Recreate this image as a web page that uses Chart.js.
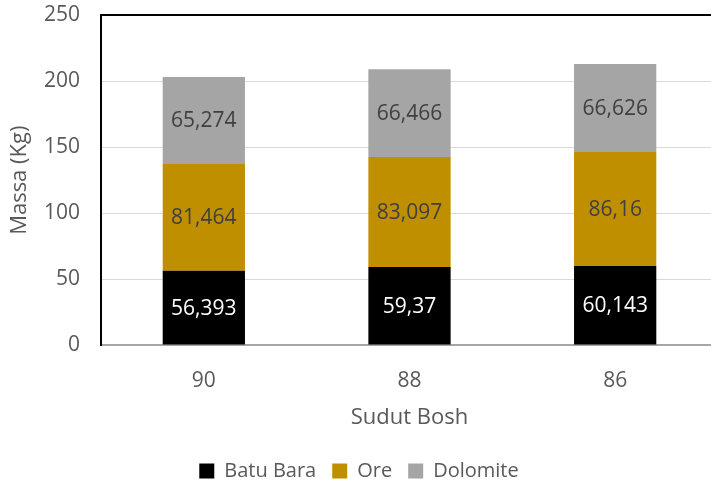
<!DOCTYPE html>
<html>
<head>
<meta charset="utf-8">
<script src="https://cdn.jsdelivr.net/npm/chart.js@4.4.1/dist/chart.umd.min.js"></script>
<style>
  html, body { margin: 0; padding: 0; background: #ffffff; overflow: hidden; }
  #wrap { position: relative; width: 718px; height: 481px; }
</style>
</head>
<body>
<div id="wrap"><canvas id="chart"></canvas></div>
<script>
// Sudut bosh angles on the category axis
const categories = ['90', '88', '86'];
// Mass per material (kg), stacked
const batuBara = [56.393, 59.37, 60.143];
const ore = [81.464, 83.097, 86.16];
const dolomite = [65.274, 66.466, 66.626];
// Value axis ticks
const yTicks = [0, 50, 100, 150, 200, 250];

const FONT = "'Open Sans', 'Noto Sans', sans-serif";

// Writes each segment's value in its middle, decimal comma style
const segmentLabels = {
  id: 'segmentLabels',
  afterDatasetsDraw(chart) {
    const ctx = chart.ctx;
    ctx.save();
    ctx.font = "21px " + FONT;
    ctx.textAlign = 'center';
    ctx.textBaseline = 'middle';
    chart.data.datasets.forEach((ds, di) => {
      const meta = chart.getDatasetMeta(di);
      meta.data.forEach((bar, i) => {
        const v = ds.data[i];
        const text = String(v).replace('.', ',');
        ctx.fillStyle = ds.labelColor;
        ctx.fillText(text, bar.x, (bar.y + bar.base) / 2 + 1);
      });
    });
    ctx.restore();
  }
};

new Chart(document.getElementById('chart'), {
  type: 'bar',
  data: {
    labels: categories,
    datasets: [
      { label: 'Batu Bara', data: batuBara, backgroundColor: '#000000', labelColor: '#ffffff' },
      { label: 'Ore', data: ore, backgroundColor: '#BF8F00', labelColor: '#404040' },
      { label: 'Dolomite', data: dolomite, backgroundColor: '#A5A5A5', labelColor: '#404040' }
    ]
  },
  options: {
    responsive: true,
    maintainAspectRatio: false,
    animation: false,
    layout: { padding: { top: 0, right: 0, left: 0, bottom: -10 } },
    datasets: { bar: { categoryPercentage: 0.4, barPercentage: 1.0 } },
    plugins: {
      legend: {
        position: 'bottom',
        labels: {
          font: { family: FONT, size: 20 },
          color: '#595959',
          boxWidth: 15,
          boxHeight: 15,
          padding: 16
        }
      },
      tooltip: { enabled: false }
    },
    scales: {
      x: {
        stacked: true,
        grid: { display: false },
        border: { display: false },
        ticks: { font: { family: FONT, size: 21 }, color: '#595959', padding: 15 },
        title: {
          display: true,
          text: 'Sudut Bosh',
          font: { family: FONT, size: 22 },
          color: '#595959',
          padding: { top: -4, bottom: 14 }
        }
      },
      y: {
        stacked: true,
        min: 0,
        max: 250,
        afterFit(scale) {
          scale.width = 101;
          scale.paddingTop = 15;
        },
        afterBuildTicks(scale) { scale.ticks = yTicks.map(v => ({ value: v })); },
        grid: {
          drawTicks: false,
          color(c) {
            if (c.tick.value === 250) return '#000000';
            if (c.tick.value === 0) return '#A6A6A6';
            return '#D9D9D9';
          },
          lineWidth(c) {
            return (c.tick.value === 250 || c.tick.value === 0) ? 2 : 1;
          }
        },
        border: { display: true, color: '#000000', width: 2 },
        ticks: { font: { family: FONT, size: 21 }, color: '#595959', padding: 21 },
        title: {
          display: true,
          text: 'Massa (Kg)',
          font: { family: FONT, size: 22 },
          color: '#595959',
          padding: { top: 7, bottom: 0 }
        }
      }
    }
  },
  plugins: [segmentLabels]
});
</script>
</body>
</html>
